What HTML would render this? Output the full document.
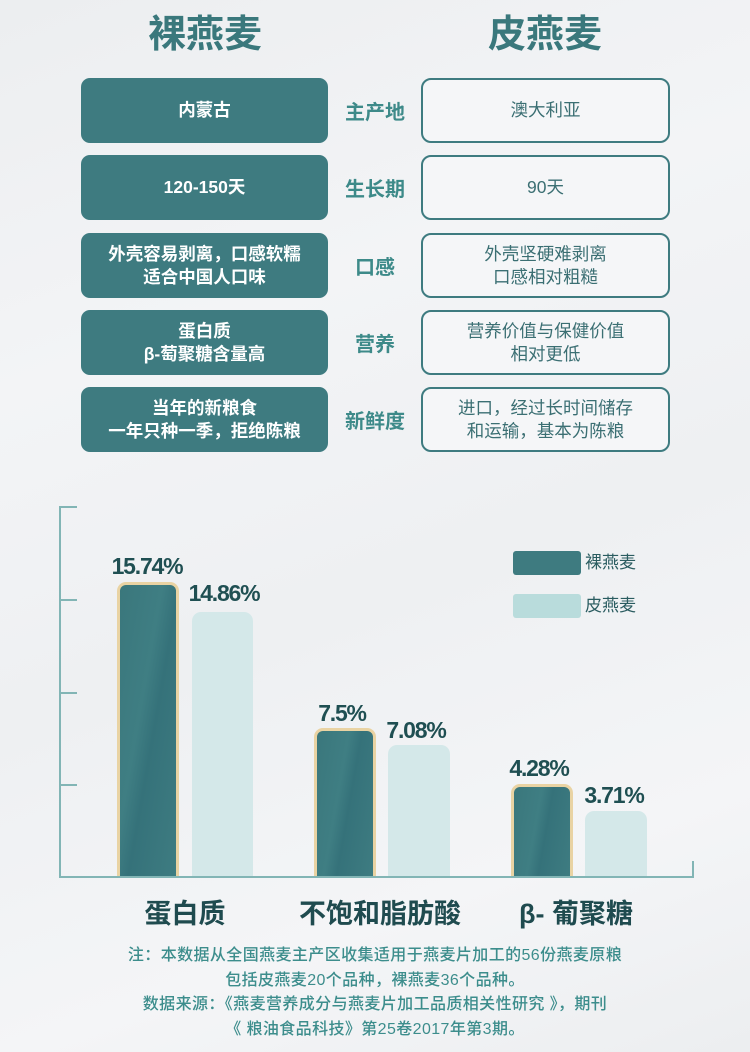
<!DOCTYPE html>
<html>
<head>
<meta charset="utf-8">
<style>
  html,body{margin:0;padding:0;}
  body{width:750px;height:1052px;position:relative;overflow:hidden;
    background:linear-gradient(160deg,#eceef0 0%,#f3f4f6 30%,#eef0f2 55%,#f4f5f7 80%,#eceef0 100%);
    font-family:"Liberation Sans","Noto Sans CJK SC",sans-serif;}
  .abs{position:absolute;}
  .title{position:absolute;top:14px;width:200px;text-align:center;font-size:38px;font-weight:bold;color:#3a787c;line-height:42px;}
  .lbox{position:absolute;left:81px;width:247px;height:65px;border-radius:9px;background:#3e7b80;color:#fff;
    font-weight:bold;font-size:17.5px;line-height:23px;display:flex;align-items:center;justify-content:center;text-align:center;}
  .rbox{position:absolute;left:421px;width:245px;height:61px;border:2px solid #3e7b80;border-radius:10px;background:#f5f6f8;color:#3b6f73;
    font-size:17.5px;line-height:23px;display:flex;align-items:center;justify-content:center;text-align:center;}
  .mid{position:absolute;left:335px;width:80px;height:65px;display:flex;align-items:center;justify-content:center;
    color:#3d8a89;font-weight:bold;font-size:20px;}
  .axis{position:absolute;background:#82b5b5;}
  .bar-d{position:absolute;box-sizing:border-box;border:3px solid #e9d3a3;border-bottom:none;border-radius:9px 9px 0 0;
    background:linear-gradient(100deg,#3a777c 0%,#3f7e83 40%,#35727a 55%,#3e7c81 100%);}
  .bar-l{position:absolute;border-radius:9px 9px 0 0;background:#d4e8e9;}
  .val{position:absolute;width:120px;text-align:center;font-size:23px;font-weight:bold;letter-spacing:-1.2px;color:#1f4f52;line-height:23px;height:23px;}
  .cat{position:absolute;width:220px;text-align:center;font-size:27px;font-weight:bold;color:#1f4b4f;line-height:30px;top:899px;}
  .leg{position:absolute;font-size:17px;color:#2a5c60;line-height:24px;}
  .note{position:absolute;left:0;width:750px;top:944px;text-align:center;font-size:16px;letter-spacing:0.4px;line-height:24.5px;color:#3c8d8c;font-weight:500;}
</style>
</head>
<body>
  <div class="title" style="left:105px;">裸燕麦</div>
  <div class="title" style="left:445px;">皮燕麦</div>

  <div class="lbox" style="top:78px;">内蒙古</div>
  <div class="mid" style="top:78px;">主产地</div>
  <div class="rbox" style="top:78px;">澳大利亚</div>

  <div class="lbox" style="top:155px;">120-150天</div>
  <div class="mid" style="top:155px;">生长期</div>
  <div class="rbox" style="top:155px;">90天</div>

  <div class="lbox" style="top:233px;">外壳容易剥离，口感软糯<br>适合中国人口味</div>
  <div class="mid" style="top:233px;">口感</div>
  <div class="rbox" style="top:233px;">外壳坚硬难剥离<br>口感相对粗糙</div>

  <div class="lbox" style="top:310px;">蛋白质<br>β-萄聚糖含量高</div>
  <div class="mid" style="top:310px;">营养</div>
  <div class="rbox" style="top:310px;">营养价值与保健价值<br>相对更低</div>

  <div class="lbox" style="top:387px;">当年的新粮食<br>一年只种一季，拒绝陈粮</div>
  <div class="mid" style="top:387px;">新鲜度</div>
  <div class="rbox" style="top:387px;">进口，经过长时间储存<br>和运输，基本为陈粮</div>

  <!-- axes -->
  <div class="axis" style="left:59px;top:507px;width:2px;height:371px;"></div>
  <div class="axis" style="left:59px;top:506px;width:18px;height:2px;"></div>
  <div class="axis" style="left:59px;top:599px;width:18px;height:2px;"></div>
  <div class="axis" style="left:59px;top:692px;width:18px;height:2px;"></div>
  <div class="axis" style="left:59px;top:784px;width:18px;height:2px;"></div>
  <div class="axis" style="left:59px;top:876px;width:635px;height:2px;"></div>
  <div class="axis" style="left:692px;top:861px;width:2px;height:16px;"></div>

  <!-- bars -->
  <div class="bar-d" style="left:117px;top:582px;width:62px;height:294px;"></div>
  <div class="bar-l" style="left:192px;top:612px;width:61px;height:264px;"></div>
  <div class="bar-d" style="left:314px;top:728px;width:62px;height:148px;"></div>
  <div class="bar-l" style="left:388px;top:745px;width:62px;height:131px;"></div>
  <div class="bar-d" style="left:511px;top:784px;width:62px;height:92px;"></div>
  <div class="bar-l" style="left:585px;top:811px;width:62px;height:65px;"></div>

  <!-- values -->
  <div class="val" style="left:87px;top:555px;">15.74%</div>
  <div class="val" style="left:164px;top:582px;">14.86%</div>
  <div class="val" style="left:282px;top:702px;">7.5%</div>
  <div class="val" style="left:356px;top:719px;">7.08%</div>
  <div class="val" style="left:479px;top:757px;">4.28%</div>
  <div class="val" style="left:554px;top:784px;">3.71%</div>

  <!-- legend -->
  <div class="abs" style="left:513px;top:551px;width:68px;height:24px;border-radius:3px;background:#3e7b80;"></div>
  <div class="leg" style="left:585px;top:551px;">裸燕麦</div>
  <div class="abs" style="left:513px;top:594px;width:68px;height:24px;border-radius:3px;background:#b9dcdc;"></div>
  <div class="leg" style="left:585px;top:594px;">皮燕麦</div>

  <!-- categories -->
  <div class="cat" style="left:75px;">蛋白质</div>
  <div class="cat" style="left:270px;">不饱和脂肪酸</div>
  <div class="cat" style="left:466px;">β- 葡聚糖</div>

  <div class="note">注：本数据从全国燕麦主产区收集适用于燕麦片加工的56份燕麦原粮<br>包括皮燕麦20个品种，裸燕麦36个品种。<br>数据来源：《燕麦营养成分与燕麦片加工品质相关性研究 》，期刊<br>《 粮油食品科技》第25卷2017年第3期。</div>
</body>
</html>
